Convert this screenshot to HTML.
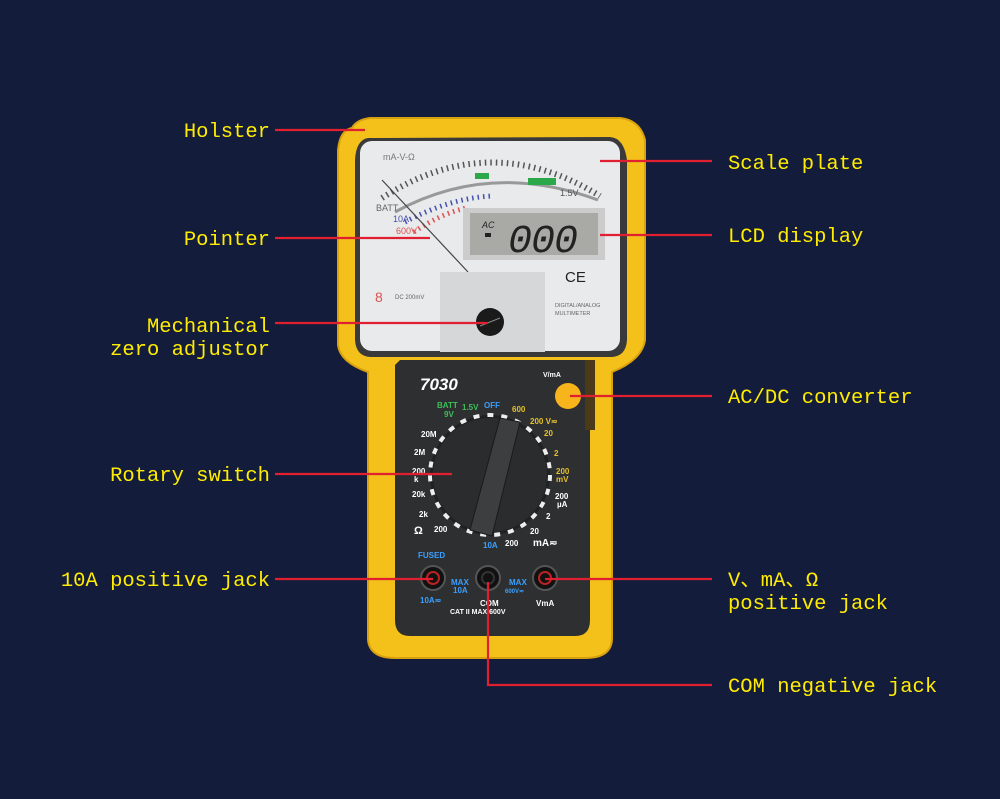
<!DOCTYPE html>
<html><head><meta charset="utf-8"><style>
html,body{margin:0;padding:0;background:#131c3b;}
svg{display:block}
text.l{font-family:"Liberation Mono","WenQuanYi Zen Hei",monospace;font-size:20.5px;fill:#ffec00;}
text.s{font-family:"Liberation Sans",sans-serif;font-weight:bold;}
</style></head><body>
<svg width="1000" height="799" viewBox="0 0 1000 799" xmlns="http://www.w3.org/2000/svg">
<rect width="1000" height="799" fill="#131c3b"/>
<!-- holster -->
<path d="M352 128 Q340 130 338 150 L338 345 Q340 362 368 372 L368 640 Q370 658 395 658 L585 658 Q612 658 612 638 L612 372 Q642 360 645 340 L645 140 Q640 120 620 118 L370 118 Q356 120 352 128 Z" fill="#f3c11a" stroke="#d9a10e" stroke-width="2"/>
<!-- window -->
<path d="M368 138 Q356 140 355 160 L355 340 Q356 356 370 357 L612 357 Q626 356 627 340 L627 160 Q624 138 610 137 Z" fill="#3a3a3a"/>
<rect x="360" y="141" width="260" height="210" rx="12" fill="#e9eaec"/>
<!-- scale arcs -->
<path d="M382 198 Q490 128 600 196" fill="none" stroke="#555" stroke-width="6" stroke-dasharray="1.5 4"/>
<path d="M395 212 Q490 160 598 200" fill="none" stroke="#999" stroke-width="3"/>
<path d="M405 222 Q450 198 492 196" fill="none" stroke="#4650b0" stroke-width="5" stroke-dasharray="1.5 4"/>
<path d="M414 232 Q440 214 466 208" fill="none" stroke="#e05050" stroke-width="5" stroke-dasharray="1.5 4"/>
<rect x="475" y="173" width="14" height="6" fill="#2aa84a"/>
<rect x="528" y="178" width="28" height="7" fill="#2aa84a"/>
<text x="383" y="160" font-size="9" fill="#777" font-family="Liberation Sans">mA-V-Ω</text>
<text x="376" y="211" font-size="9" fill="#666" font-family="Liberation Sans">BATT</text>
<text x="393" y="222" font-size="9" fill="#4650b0" font-family="Liberation Sans">10A</text>
<text x="396" y="234" font-size="9" fill="#e05050" font-family="Liberation Sans">600V</text>
<text x="560" y="196" font-size="9" fill="#555" font-family="Liberation Sans">1.5V</text>
<line x1="382" y1="180" x2="468" y2="272" stroke="#444" stroke-width="1.2"/>
<!-- LCD -->
<rect x="463" y="208" width="142" height="52" fill="#ccc"/>
<rect x="470" y="213" width="128" height="42" fill="#a9aaa5"/>
<text x="482" y="228" font-size="9" fill="#222" font-style="italic" font-family="Liberation Sans">AC</text>
<rect x="485" y="233" width="6" height="4" fill="#222"/>
<text x="508" y="252" font-size="40" fill="#222" font-family="Liberation Mono" letter-spacing="-1" font-style="italic">000</text>
<text x="565" y="282" font-size="15" fill="#222" font-family="Liberation Sans">CE</text>
<rect x="440" y="272" width="105" height="80" fill="#d6d7d9"/>
<circle cx="490" cy="322" r="14" fill="#1a1a1a"/>
<line x1="480" y1="326" x2="500" y2="318" stroke="#888" stroke-width="1"/>
<text x="375" y="302" font-size="14" fill="#e05050" font-family="Liberation Sans">8</text>
<text x="395" y="299" font-size="6" fill="#666" font-family="Liberation Sans">DC 200mV</text>
<text x="555" y="307" font-size="5.5" fill="#666" font-family="Liberation Sans">DIGITAL/ANALOG</text>
<text x="555" y="315" font-size="5.5" fill="#666" font-family="Liberation Sans">MULTIMETER</text>
<!-- lower panel -->
<path d="M400 360 L590 360 L590 620 Q590 636 575 636 L410 636 Q395 636 395 620 L395 365 Z" fill="#2d2f31"/>
<rect x="585" y="360" width="10" height="70" fill="#4a3a1a"/>
<text x="420" y="390" font-size="17" fill="#fff" font-style="italic" class="s">7030</text>
<text x="543" y="377" font-size="7" fill="#fff" class="s">V/mA</text>
<circle cx="568" cy="396" r="13" fill="#f7b51b"/>
<circle cx="490" cy="475" r="60" fill="#1f2123" stroke="#eee" stroke-width="4" stroke-dasharray="6 8"/>
<circle cx="490" cy="475" r="57" fill="#2a2c2e"/>
<path d="M500 418 L520 422 L492 536 L470 530 Z" fill="#3c3e40" stroke="#1a1a1a"/>
<g font-size="8" class="s" font-family="Liberation Sans" font-weight="bold">
<text x="437" y="408" fill="#3cbf5a">BATT</text><text x="444" y="417" fill="#3cbf5a">9V</text>
<text x="462" y="410" fill="#3cbf5a">1.5V</text><text x="484" y="408" fill="#3aa0ff">OFF</text>
<text x="512" y="412" fill="#e6c02a">600</text><text x="530" y="424" fill="#e6c02a">200 V≂</text>
<text x="544" y="436" fill="#e6c02a">20</text><text x="554" y="456" fill="#e6c02a">2</text>
<text x="556" y="474" fill="#e6c02a">200</text><text x="556" y="482" fill="#e6c02a">mV</text>
<text x="555" y="499" fill="#fff">200</text><text x="557" y="507" fill="#fff">µA</text>
<text x="546" y="519" fill="#fff">2</text><text x="530" y="534" fill="#fff">20</text>
<text x="533" y="546" fill="#fff" font-size="10">mA≂</text>
<text x="505" y="546" fill="#fff">200</text><text x="483" y="548" fill="#3aa0ff">10A</text>
<text x="421" y="437" fill="#fff">20M</text><text x="414" y="455" fill="#fff">2M</text>
<text x="412" y="474" fill="#fff">200</text><text x="414" y="482" fill="#fff">k</text>
<text x="412" y="497" fill="#fff">20k</text><text x="419" y="517" fill="#fff">2k</text>
<text x="434" y="532" fill="#fff">200</text><text x="414" y="534" fill="#fff" font-size="11">Ω</text>
<text x="418" y="558" fill="#3aa0ff">FUSED</text>
<text x="451" y="585" fill="#3aa0ff">MAX</text><text x="453" y="593" fill="#3aa0ff">10A</text>
<text x="509" y="585" fill="#3aa0ff">MAX</text><text x="505" y="593" fill="#3aa0ff" font-size="6">600V≂</text>
<text x="420" y="603" fill="#3aa0ff">10A≂</text>
<text x="480" y="606" fill="#fff">COM</text><text x="450" y="614" fill="#fff" font-size="7">CAT II MAX 600V</text>
<text x="536" y="606" fill="#fff">VmA</text>
</g>
<g><circle cx="433" cy="578" r="12" fill="#111" stroke="#555" stroke-width="2"/><circle cx="433" cy="578" r="6" fill="#111" stroke="#b22" stroke-width="2"/>
<circle cx="488" cy="578" r="12" fill="#111" stroke="#555" stroke-width="2"/><circle cx="488" cy="578" r="6" fill="#111" stroke="#333" stroke-width="2"/>
<circle cx="545" cy="578" r="12" fill="#111" stroke="#555" stroke-width="2"/><circle cx="545" cy="578" r="6" fill="#111" stroke="#b22" stroke-width="2"/></g>
<!-- leader lines -->
<g stroke="#e02030" stroke-width="2.2" fill="none">
<line x1="275" y1="130" x2="365" y2="130"/>
<line x1="600" y1="161" x2="712" y2="161"/>
<line x1="600" y1="235" x2="712" y2="235"/>
<line x1="275" y1="238" x2="430" y2="238"/>
<line x1="275" y1="323" x2="487" y2="323"/>
<line x1="570" y1="396" x2="712" y2="396"/>
<line x1="275" y1="474" x2="452" y2="474"/>
<line x1="275" y1="579" x2="433" y2="579"/>
<line x1="545" y1="579" x2="712" y2="579"/>
<polyline points="488,582 488,685 712,685"/>
</g>
<!-- labels -->
<g>
<text class="l" x="270" y="137" text-anchor="end">Holster</text>
<text class="l" x="270" y="245" text-anchor="end">Pointer</text>
<text class="l" x="270" y="332" text-anchor="end">Mechanical</text>
<text class="l" x="270" y="355" text-anchor="end">zero adjustor</text>
<text class="l" x="270" y="481" text-anchor="end">Rotary switch</text>
<text class="l" x="270" y="586" text-anchor="end">10A positive jack</text>
<text class="l" x="728" y="169">Scale plate</text>
<text class="l" x="728" y="242">LCD display</text>
<text class="l" x="728" y="403">AC/DC converter</text>
<text class="l" x="728" y="586">V、mA、Ω</text>
<text class="l" x="728" y="609">positive jack</text>
<text class="l" x="728" y="692">COM negative jack</text>
</g>
</svg>
</body></html>
